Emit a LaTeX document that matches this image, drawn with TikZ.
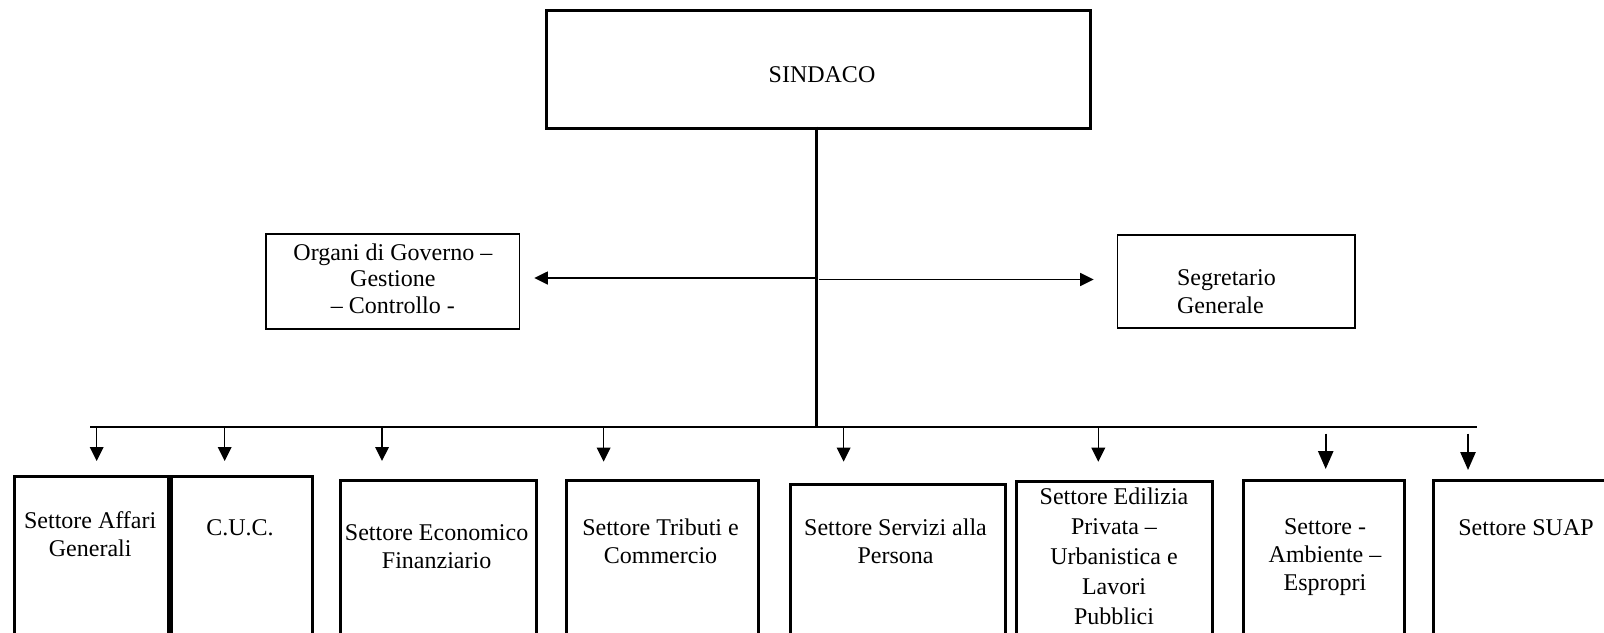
\documentclass[tikz,border=0pt]{standalone}
\usepackage{fontspec}
\setmainfont{Liberation Serif}
\usetikzlibrary{arrows.meta}
\tikzset{
  thickbox/.style={draw, line width=1.5pt, rectangle, inner sep=0pt, anchor=north west},
  thinbox/.style={draw, line width=0.75pt, rectangle, inner sep=0pt, anchor=north west},
  lbl/.style={inner sep=0pt, align=center, anchor=north, font=\fontsize{12}{13.9}\selectfont},
  arr/.style={-{Triangle[length=7pt,width=6.8pt]}, line width=0.75pt},
  bigarr/.style={-{Triangle[length=9pt,width=7.6pt]}, line width=1pt},
  harr/.style={-{Triangle[length=6.8pt,width=6.5pt]}, line width=0.75pt},
}
\begin{document}
\begin{tikzpicture}[x=0.5pt,y=-0.5pt]
\useasboundingbox (0,0) rectangle (1604,632);
\clip (0,0) rectangle (1604,632);

% top
\node[thickbox, minimum width=272pt, minimum height=58.7pt] (sindaco) at (545.3,9.3) {};
\node[inner sep=0pt, anchor=base, font=\fontsize{12}{13.9}\selectfont] (sindacot) at (822,82) {SINDACO};

% middle boxes
\node[thinbox, minimum width=126.7pt, minimum height=47.5pt, align=center,
      font=\fontsize{12}{13.2}\selectfont] (organi) at (265.4,233.3) {};
\node[inner sep=0pt, align=center, font=\fontsize{12}{13.2}\selectfont] (organit)
      at ([yshift=1.5pt]organi.center) {Organi di Governo –\\Gestione\\– Controllo -};
\node[thinbox, minimum width=118.65pt, minimum height=46.65pt] (segr) at (1116.7,234) {};
\node[inner sep=0pt, align=left, anchor=north west, font=\fontsize{12}{14.2}\selectfont] (segrt) at (1176.7,269.3) {Segretario\\Generale};

% bottom boxes
\node[thickbox, minimum width=76.7pt,  minimum height=92.5pt]  (b1) at (13.3,475) {};
\node[thickbox, minimum width=70.85pt, minimum height=92.5pt]  (b2) at (169.5,475) {};
\node[thickbox, minimum width=98pt,    minimum height=90.35pt] (b3) at (339,479.3) {};
\node[thickbox, minimum width=95.9pt,  minimum height=90.35pt] (b4) at (565,479.3) {};
\node[thickbox, minimum width=107.3pt, minimum height=88.35pt] (b5) at (789,483.3) {};
\node[thickbox, minimum width=97.75pt, minimum height=90.2pt]  (b6) at (1015,479.7) {};
\node[thickbox, minimum width=80.65pt, minimum height=90.35pt] (b7) at (1241.7,479.3) {};
\node[thickbox, minimum width=94pt,    minimum height=90.35pt] (b8) at (1432,479.3) {};

\node[lbl] (t1) at (90.2,511.6) {Settore Affari\\Generali};
\node[lbl] (t2) at (240,519) {C.U.C.};
\node[lbl, font=\fontsize{12}{14.1}\selectfont] (t3) at (436.6,524) {Settore Economico\\Finanziario};
\node[lbl, font=\fontsize{12}{14.1}\selectfont] (t4) at (660.5,518) {Settore Tributi e\\Commercio};
\node[lbl, font=\fontsize{12}{14.1}\selectfont] (t5) at (895.5,518.5) {Settore Servizi alla\\Persona};
\node[lbl, font=\fontsize{12}{15.1}\selectfont] (t6) at (1114,487) {Settore Edilizia\\Privata –\\Urbanistica e\\Lavori\\Pubblici};
\node[lbl] (t7) at (1325,518.6) {Settore -\\Ambiente –\\Espropri};
\node[lbl] (t8) at (1526,519.3) {Settore SUAP};

% trunk and bus
\coordinate (busl) at (90,426.7);
\coordinate (busr) at (1476.7,426.7);
\coordinate (trunkt) at (816,126.7);
\coordinate (trunkb) at (trunkt |- busl);
\draw[line width=1.5pt] (trunkt) -- (trunkb);
\draw[line width=1pt] (busl) -- (busr);

% horizontal arrows
\coordinate (hl) at (815.5,278);
\coordinate (hr) at (818.5,279.5);
\draw[harr, shorten >=7pt] (hl) -- (hl -| organi.east);
\draw[harr, shorten >=11.5pt] (hr) -- (hr -| segr.west);

% bottom arrows
\coordinate (a1) at (96.7,426.7);   \coordinate (e1) at (96.7,461);
\coordinate (a2) at (224.7,426.7);  \coordinate (e2) at (224.7,461);
\coordinate (a3) at (382,426.7);    \coordinate (e3) at (382,461);
\coordinate (a4) at (603.6,426.7);  \coordinate (e4) at (603.6,461.7);
\coordinate (a5) at (843.6,426.7);  \coordinate (e5) at (843.6,461.7);
\coordinate (a6) at (1098.3,426.7); \coordinate (e6) at (1098.3,461.7);
\coordinate (a7) at (1325.7,433.5); \coordinate (e7) at (1325.7,469);
\coordinate (a8) at (1468,433.5);   \coordinate (e8) at (1468,470);
\foreach \i in {1,...,6} { \draw[arr] (a\i) -- (e\i); }
\draw[bigarr] (a7) -- (e7);
\draw[bigarr] (a8) -- (e8);
\end{tikzpicture}
\end{document}
